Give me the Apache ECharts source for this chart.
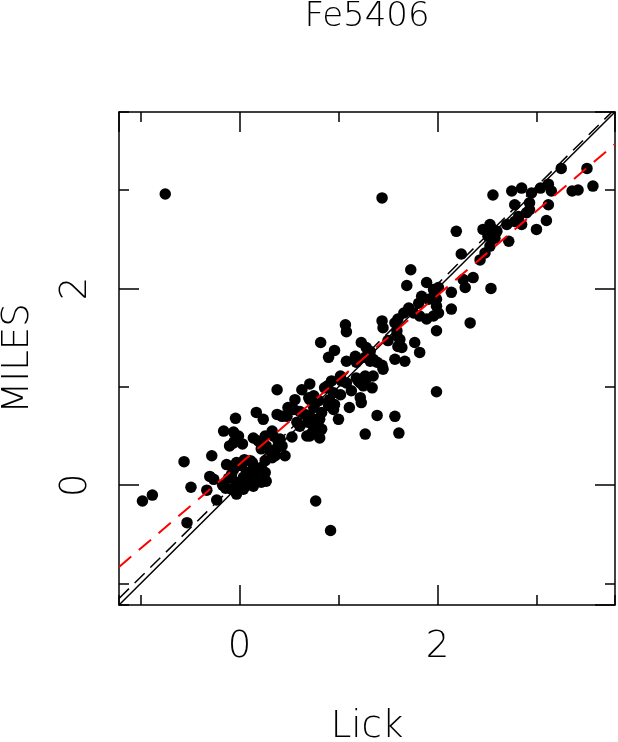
<!DOCTYPE html>
<html>
<head>
<meta charset="utf-8">
<script src="https://cdn.jsdelivr.net/npm/echarts@6/dist/echarts.min.js"></script>
<style>
  html, body { margin: 0; padding: 0; background: #fff; }
  #chart { width: 618px; height: 742px; }
</style>
</head>
<body>
<div id="chart"></div>
<script>
// Lick vs MILES index values
var lickValues = [
  -0.98, -0.88, -0.75, -0.56, -0.53, -0.49, -0.33, -0.30, -0.28, -0.23,
  -0.17, -0.16, -0.14, -0.13, -0.11, -0.08, -0.08, -0.06, -0.06, -0.05,
  -0.04, -0.03, -0.03, -0.03, -0.01, 0.00, 0.02, 0.03, 0.04, 0.05,
  0.06, 0.07, 0.11, 0.11, 0.11, 0.13, 0.14, 0.14, 0.17, 0.17,
  0.18, 0.19, 0.22, 0.22, 0.22, 0.24, 0.26, 0.26, 0.27, 0.27,
  0.31, 0.33, 0.33, 0.34, 0.36, 0.38, 0.38, 0.38, 0.39, 0.41,
  0.43, 0.43, 0.46, 0.49, 0.53, 0.56, 0.58, 0.61, 0.61, 0.63,
  0.66, 0.69, 0.68, 0.71, 0.71, 0.71, 0.70, 0.71, 0.73, 0.75,
  0.75, 0.75, 0.76, 0.77, 0.78, 0.80, 0.80, 0.81, 0.82, 0.83,
  0.86, 0.89, 0.90, 0.90, 0.92, 0.93, 0.95, 0.96, 0.96, 1.00,
  1.02, 1.02, 1.03, 1.07, 1.08, 1.08, 1.08, 1.11, 1.17, 1.18,
  1.20, 1.22, 1.22, 1.23, 1.23, 1.25, 1.27, 1.27, 1.28, 1.28,
  1.32, 1.32, 1.34, 1.35, 1.35, 1.39, 1.39, 1.44, 1.44, 1.44,
  1.45, 1.45, 1.50, 1.57, 1.57, 1.57, 1.59, 1.59, 1.60, 1.60,
  1.61, 1.62, 1.64, 1.66, 1.67, 1.69, 1.71, 1.73, 1.76, 1.77,
  1.81, 1.82, 1.82, 1.84, 1.89, 1.89, 1.91, 1.96, 1.96, 1.97,
  1.99, 1.99, 1.99, 1.99, 2.01, 2.01, 2.14, 2.14, 2.19, 2.24,
  2.26, 2.28, 2.33, 2.36, 2.43, 2.46, 2.48, 2.51, 2.53, 2.53,
  2.54, 2.56, 2.56, 2.58, 2.60, 2.70, 2.72, 2.75, 2.78, 2.78,
  2.82, 2.85, 2.85, 2.90, 2.93, 2.93, 2.95, 3.00, 3.04, 3.10,
  3.12, 3.12, 3.15, 3.25, 3.36, 3.42, 3.51, 3.57,
  0.55, -0.10, 0.26, -0.06, 0.04, 0.14, 1.27, 1.18, 1.13, 0.91,
  0.95, 0.83, 0.81, 0.48, 0.25, -0.26
];
var milesValues = [
  -0.16, -0.10, 2.96, 0.24, -0.38, -0.02, -0.05, 0.09, 0.30, -0.15,
  0.00, 0.55, -0.03, 0.21, 0.07, 0.11, -0.04, 0.43, 0.54, 0.45,
  0.68, 0.23, 0.03, -0.09, 0.50, -0.01, 0.20, 0.42, 0.08, 0.26,
  0.06, 0.13, 0.04, 0.14, 0.25, 0.23, 0.20, 0.48, 0.16, 0.74,
  0.06, 0.45, 0.03, 0.18, 0.37, 0.67, 0.13, 0.50, 0.04, 0.40,
  0.35, 0.28, 0.55, 0.50, 0.30, 0.38, 0.72, 0.97, 0.45, 0.47,
  0.40, 0.70, 0.30, 0.79, 0.49, 0.87, 0.64, 0.60, 0.75, 0.97,
  0.72, 0.64, 0.50, 0.50, 0.70, 0.87, 0.89, 1.03, 0.53, 0.59,
  0.79, 0.91, 0.67, -0.16, 0.60, 0.52, 0.86, 0.48, 1.45, 0.57,
  0.99, 1.01, 0.81, 1.30, -0.46, 1.06, 0.94, 0.82, 1.37, 0.67,
  0.92, 1.11, 1.06, 1.63, 1.04, 1.26, 1.56, 0.79, 1.31, 1.25,
  1.06, 0.89, 1.04, 0.84, 1.45, 1.01, 0.52, 1.11, 1.08, 1.40,
  1.26, 1.36, 0.99, 1.11, 1.28, 1.25, 0.71, 1.22, 1.67, 2.92,
  1.18, 1.60, 1.47, 0.70, 1.28, 1.65, 1.52, 1.57, 1.41, 1.69,
  0.53, 1.48, 1.40, 1.75, 1.26, 2.03, 1.80, 2.19, 1.75, 1.45,
  1.85, 1.35, 1.72, 1.92, 1.69, 2.06, 1.89, 1.72, 1.99, 1.94,
  0.95, 1.57, 1.82, 1.89, 1.75, 2.01, 1.79, 1.96, 2.58, 2.35,
  2.09, 2.01, 1.65, 2.11, 2.29, 2.60, 2.36, 2.53, 2.43, 2.65,
  2.00, 2.60, 2.95, 2.51, 2.58, 2.65, 2.48, 2.99, 2.68, 2.85,
  2.73, 2.65, 3.02, 2.77, 2.80, 2.87, 2.97, 2.60, 3.02, 2.69,
  2.85, 3.06, 2.99, 3.22, 2.99, 3.00, 3.22, 3.04,
  0.77, 0.40, 0.25, 0.16, -0.04, -0.01, 1.30, 1.09, 0.96, 0.87,
  0.77, 0.74, 0.67, 0.70, 0.07, 0.06
];
var labelledTicks = [0, 2];

// reference lines: 1:1, near-1:1 dashed, red least-squares fit
var oneToOne = { slope: 1, intercept: 0 };
var blackDashed = { slope: 0.993, intercept: 0.058 };
var redFit = { slope: 0.858, intercept: 0.214 };

var axisMin = -1.217, axisMax = 3.793;
var font = 'DejaVu Sans';

function lineEnds(p) {
  return [axisMin, axisMax].map(function (x) { return [x, p.slope * x + p.intercept]; });
}

var points = lickValues.map(function (x, i) { return [x, milesValues[i]]; });

var chart = echarts.init(document.getElementById('chart'));

function axisCommon(pos, step, tickLen, showLine) {
  return {
    type: 'value',
    position: pos,
    min: axisMin,
    max: axisMax,
    minInterval: step,
    maxInterval: step,
    splitLine: { show: false },
    axisLine: { show: showLine, onZero: false, lineStyle: { color: '#000', width: 1.5 } },
    axisTick: { show: true, inside: true, length: tickLen, lineStyle: { color: '#000', width: 1.5 } },
    axisLabel: { show: false }
  };
}

var xMain = axisCommon('bottom', 2, 20, true);
xMain.axisLabel = {
  show: true, margin: 24, fontSize: 37, fontFamily: font, fontWeight: 200, color: '#000',
  showMinLabel: false, showMaxLabel: false,
  formatter: function (v) { return labelledTicks.indexOf(v) >= 0 ? String(v) : ''; }
};
xMain.name = 'Lick';
xMain.nameLocation = 'middle';
xMain.nameGap = 104;
xMain.nameTextStyle = { fontSize: 37, fontFamily: font, fontWeight: 200, color: '#000' };

var xTop = axisCommon('top', 2, 20, true);
xTop.name = 'Fe5406';
xTop.nameLocation = 'middle';
xTop.nameGap = 78;
xTop.nameTextStyle = { fontSize: 34, fontFamily: font, fontWeight: 200, color: '#000' };

var yMain = axisCommon('left', 2, 20, true);
yMain.axisLabel = {
  show: true, margin: 24, rotate: 90, fontSize: 37, fontFamily: font, fontWeight: 200, color: '#000',
  showMinLabel: false, showMaxLabel: false,
  formatter: function (v) { return labelledTicks.indexOf(v) >= 0 ? String(v) : ''; }
};
yMain.name = 'MILES';
yMain.nameLocation = 'middle';
yMain.nameGap = 82;
yMain.nameTextStyle = { fontSize: 37, fontFamily: font, fontWeight: 200, color: '#000' };

var yRight = axisCommon('right', 2, 20, true);

var option = {
  animation: false,
  backgroundColor: '#fff',
  grid: { left: 119, top: 112, right: 3, bottom: 137, containLabel: false, outerBoundsMode: 'none' },
  xAxis: [
    xMain,
    axisCommon('bottom', 1, 10, false),
    xTop,
    axisCommon('top', 1, 10, false)
  ],
  yAxis: [
    yMain,
    axisCommon('left', 1, 10, false),
    yRight,
    axisCommon('right', 1, 10, false)
  ],
  series: [
    {
      type: 'scatter',
      data: points,
      symbol: 'circle',
      symbolSize: 11.5,
      itemStyle: { color: '#000', opacity: 1 },
      silent: true,
      z: 2
    },
    {
      type: 'line',
      data: lineEnds(oneToOne),
      showSymbol: false,
      lineStyle: { color: '#000', width: 1.5, type: 'solid' },
      silent: true,
      z: 3
    },
    {
      type: 'line',
      data: lineEnds(blackDashed),
      showSymbol: false,
      lineStyle: { color: '#000', width: 1.5, type: [14, 8] },
      silent: true,
      z: 3
    },
    {
      type: 'line',
      data: lineEnds(redFit),
      showSymbol: false,
      lineStyle: { color: '#ff0000', width: 2, type: [16, 10] },
      silent: true,
      z: 4
    }
  ]
};

chart.setOption(option);
</script>
</body>
</html>
